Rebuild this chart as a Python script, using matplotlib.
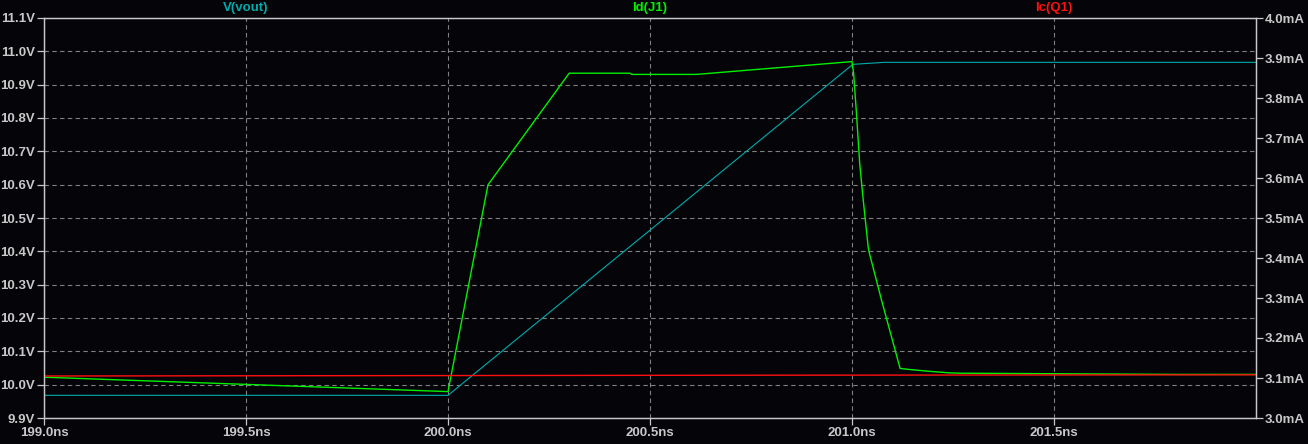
import matplotlib
matplotlib.use("Agg")
import matplotlib.pyplot as plt
from matplotlib.ticker import FuncFormatter, MultipleLocator

# traces (time in ns)
t_vout = [199.0, 200.0, 201.0, 201.003, 201.08, 202.0]
v_vout = [9.968, 9.968, 10.959, 10.961, 10.967, 10.967]

t_id = [199.0, 199.5, 200.0, 200.099, 200.300, 200.450, 200.455, 200.615,
        201.0, 201.004, 201.011, 201.019, 201.027, 201.033, 201.040, 201.042,
        201.073, 201.119, 201.135, 201.188, 201.238, 201.265, 201.802, 202.0]
i_id = [3.102, 3.084, 3.066, 3.583, 3.862, 3.862, 3.859, 3.859,
        3.891, 3.862, 3.762, 3.637, 3.553, 3.495, 3.428, 3.416,
        3.295, 3.124, 3.122, 3.117, 3.113, 3.112, 3.109, 3.109]

t_ic = [199.0, 200.8, 202.0]
i_ic = [3.105, 3.107, 3.108]

bg = '#050409'
fg = '#c8c8c8'
c_vout = '#00acac'
c_id = '#00f000'
c_ic = '#ff1010'

plt.rcParams['font.family'] = ['Liberation Sans', 'DejaVu Sans']
plt.rcParams['font.size'] = 9.5
plt.rcParams['font.weight'] = 'bold'

W, H = 1308, 444
fig = plt.figure(figsize=(W / 100, H / 100), dpi=100, facecolor=bg)
ax = fig.add_axes([44 / W, (H - 418) / H, 1212 / W, 400 / H])
ax.set_facecolor(bg)
ax2 = ax.twinx()

ax.plot(t_vout, v_vout, color=c_vout, lw=0.8)
ax2.plot(t_id, i_id, color=c_id, lw=1.0)
ax2.plot(t_ic, i_ic, color=c_ic, lw=1.0)

ax.set_xlim(199.0, 202.0)
ax.set_ylim(9.9, 11.1)
ax2.set_ylim(3.0, 4.0)

ax.set_xticks([199.0, 199.5, 200.0, 200.5, 201.0, 201.5])
ax.yaxis.set_major_locator(MultipleLocator(0.1))
ax2.yaxis.set_major_locator(MultipleLocator(0.1))
ax.xaxis.set_major_formatter(FuncFormatter(lambda v, p: '%.1fns' % v))
ax.yaxis.set_major_formatter(FuncFormatter(lambda v, p: '%.1fV' % v))
ax2.yaxis.set_major_formatter(FuncFormatter(lambda v, p: '%.1fmA' % v))

ax.grid(True, color='#808080', ls=(0, (4, 3)), lw=0.8)
ax.set_axisbelow(True)

for a in (ax, ax2):
    for s in a.spines.values():
        s.set_color(fg)
        s.set_linewidth(0.9)
    a.tick_params(colors=fg, length=5, width=0.9, labelsize=9.5, pad=1.5)

ax.text(1 / 6, 1.024, 'V(vout)', color=c_vout, transform=ax.transAxes,
        ha='center', va='center')
ax.text(0.5, 1.024, 'Id(J1)', color=c_id, transform=ax.transAxes,
        ha='center', va='center')
ax.text(5 / 6, 1.024, 'Ic(Q1)', color=c_ic, transform=ax.transAxes,
        ha='center', va='center')

fig.savefig('out.png', dpi=100, facecolor=bg)
